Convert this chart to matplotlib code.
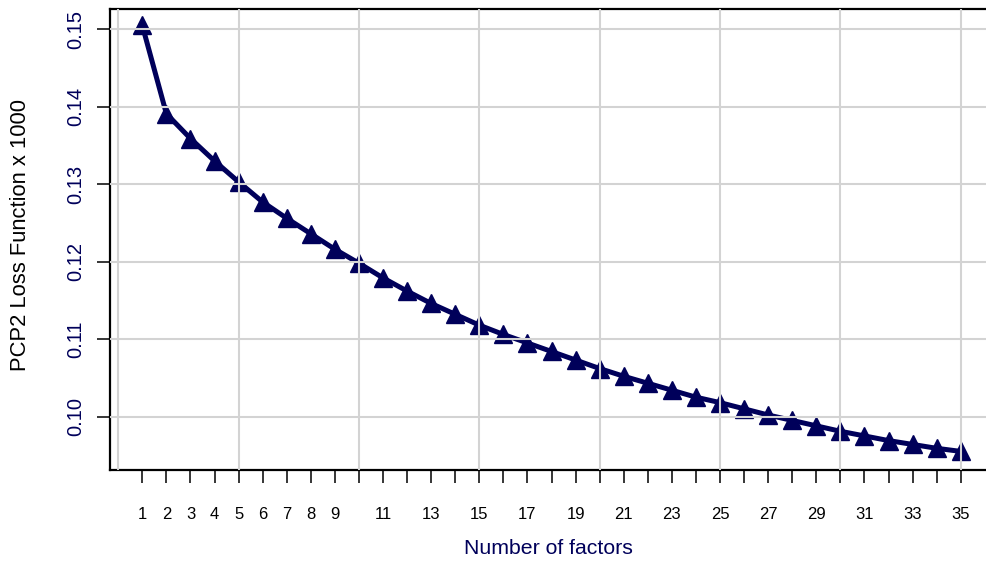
import matplotlib
matplotlib.use("Agg")
import matplotlib.pyplot as plt

plt.rcParams['font.family'] = ['Liberation Sans', 'DejaVu Sans']

factors = list(range(1, 36))
loss = [0.1505, 0.1391, 0.1359, 0.1330, 0.1303, 0.1277, 0.1256, 0.1236, 0.1216, 0.1198,
        0.1179, 0.1162, 0.1146, 0.1132, 0.1118, 0.1106, 0.1095, 0.1084, 0.1073, 0.1062,
        0.1052, 0.1043, 0.1034, 0.1025, 0.1018, 0.1010, 0.1002, 0.0995, 0.0988, 0.0981,
        0.0975, 0.0969, 0.0964, 0.0959, 0.0955]
xtick_labels = ['1', '2', '3', '4', '5', '6', '7', '8', '9', '', '11', '', '13', '', '15', '',
                '17', '', '19', '', '21', '', '23', '', '25', '', '27', '', '29', '', '31', '',
                '33', '', '35']
yticks = [0.10, 0.11, 0.12, 0.13, 0.14, 0.15]
ytick_labels = ['0.10', '0.11', '0.12', '0.13', '0.14', '0.15']
xgrid = [0, 5, 10, 15, 20, 25, 30, 35]

navy = '#00005a'

fig = plt.figure(figsize=(9.87, 5.62), dpi=100)
ax = fig.add_axes([0.111, 0.1637, 0.889, 0.820])

ax.plot(factors, loss, color=navy, lw=3.6, marker='^', ms=12.5, mec=navy, mfc=navy, zorder=2)

for g in xgrid:
    ax.axvline(g, color='#d3d3d3', lw=1.5, zorder=3)
for g in yticks:
    ax.axhline(g, color='#d3d3d3', lw=1.5, zorder=3)

ax.set_xlim(-0.36, 36.09)
ax.set_ylim(0.0931, 0.1526)

ax.set_xticks(factors)
ax.set_xticklabels(xtick_labels, fontsize=12, color='black')
ax.set_yticks(yticks)
ax.set_yticklabels(ytick_labels, fontsize=14.5, color=navy, rotation=90, va='center')

ax.tick_params(axis='x', length=9.5, width=1.1, pad=17, direction='out')
ax.tick_params(axis='y', length=9.5, width=1.1, pad=8, direction='out')

for s in ['left', 'top', 'bottom']:
    ax.spines[s].set_linewidth(1.6)
    ax.spines[s].set_color('black')
ax.spines['right'].set_visible(False)

ax.set_xlabel('Number of factors', fontsize=15.3, color=navy, va='center')
ax.set_ylabel('PCP2 Loss Function x 1000', fontsize=15.8, color='black', va='center')
ax.xaxis.set_label_coords((548 - 109.5) / 877.4, (470 - 548) / 460.8)
ax.yaxis.set_label_coords((20 - 109.5) / 877.4, (470 - 235) / 460.8)

fig.savefig('out.png', dpi=100)
